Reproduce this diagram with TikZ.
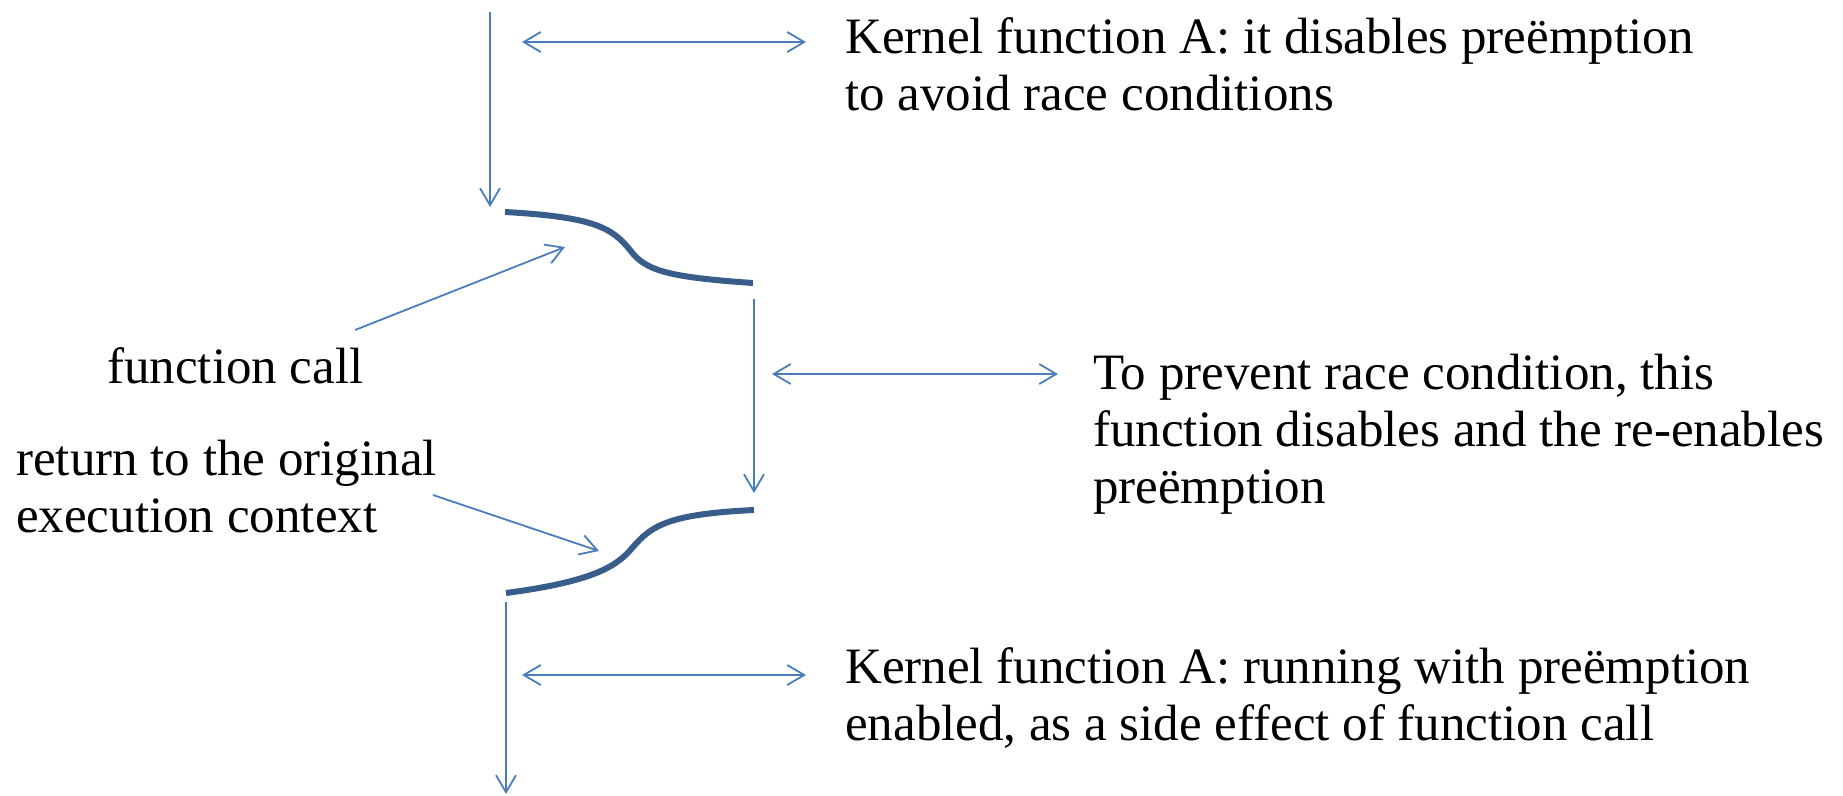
\documentclass[tikz,border=0pt]{standalone}
\usepackage{fontspec}
\setmainfont{Liberation Serif}
\usetikzlibrary{arrows.meta}
\definecolor{arrowblue}{HTML}{4A7EBB}
\definecolor{curveblue}{HTML}{385D8A}
\begin{document}
\begin{tikzpicture}[x=1pt,y=-1pt,
  barb/.tip={Straight Barb[length=17pt,width=20pt]},
  conn/.style={draw=arrowblue, line width=1.8pt, -barb},
  dbl/.style={draw=arrowblue, line width=1.8pt, barb-barb},
  flow/.style={draw=curveblue, line width=6pt},
  lbl/.style={font=\fontsize{51}{57}\selectfont, anchor=base west, inner sep=0pt, align=left, text=black}]
\useasboundingbox (0,0) rectangle (1843,795);

% text labels (base anchor = baseline of the last line)
\node[lbl] (t1) at (845,110) {Kernel function A: it disables preëmption\\to avoid race conditions};
\node[lbl] (t2) at (1093,503) {To prevent race condition, this\\function disables and the re-enables\\preëmption};
\node[lbl] (t3) at (845,740) {Kernel function A: running with preëmption\\enabled, as a side effect of function call};
\node[lbl] (t4) at (107,383) {function call};
\node[lbl] (t5) at (16,532) {return to the original\\execution context};

% coordinates
\coordinate (a1s) at (490,12);   \coordinate (a1e) at (490,207);
\coordinate (d1l) at (522,42);   \coordinate (d1r) at (806,42);
\coordinate (c1s) at (505,212);  \coordinate (c1m) at (630,250); \coordinate (c1e) at (753,283);
\coordinate (a2s) at (754,299);  \coordinate (a2e) at (754,493);
\coordinate (d2l) at (772,374);  \coordinate (d2r) at (1058,374);
\coordinate (c2s) at (754,510);  \coordinate (c2m) at (633,547); \coordinate (c2e) at (506,593);
\coordinate (a3s) at (506,602);  \coordinate (a3e) at (506,794);
\coordinate (d3l) at (522,675);  \coordinate (d3r) at (806,675);
\coordinate (fcs) at (355,330);  \coordinate (fce) at (565,247);
\coordinate (rts) at (433,495);  \coordinate (rte) at (599,551);

% flow curves
\draw[flow] (c1s) .. controls (595,217) and (612,228) .. (c1m)
                  .. controls (645,270) and (665,277) .. (c1e);
\draw[flow] (c2s) .. controls (670,514) and (652,525) .. (c2m)
                  .. controls (618,565) and (597,581) .. (c2e);

% arrows
\draw[conn] (a1s) -- (a1e);
\draw[conn] (a2s) -- (a2e);
\draw[conn] (a3s) -- (a3e);
\draw[dbl] (d1l) -- (d1r);
\draw[dbl] (d2l) -- (d2r);
\draw[dbl] (d3l) -- (d3r);
\draw[conn] (fcs) -- (fce);
\draw[conn] (rts) -- (rte);
\end{tikzpicture}
\end{document}
